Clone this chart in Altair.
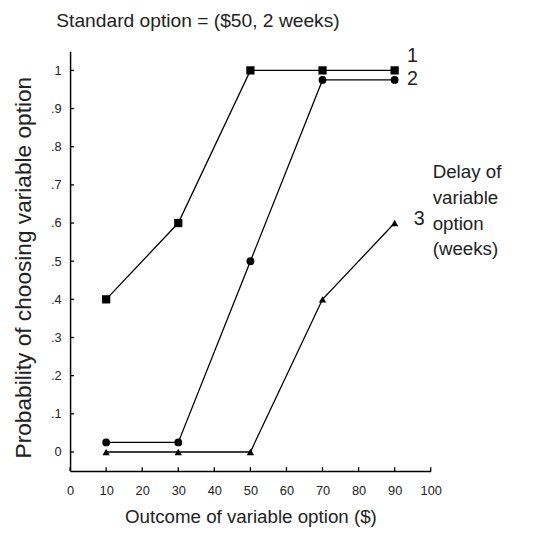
import altair as alt
import pandas as pd

# Data
outcome = [10, 30, 50, 70, 90]
p_delay1 = [0.4, 0.6, 1.0, 1.0, 1.0]
p_delay2 = [0.025, 0.025, 0.5, 0.975, 0.975]
p_delay3 = [0.0, 0.0, 0.0, 0.4, 0.6]
series_names = ["1", "2", "3"]
x_ticks = [0, 10, 20, 30, 40, 50, 60, 70, 80, 90, 100]
y_ticks = [0, 0.1, 0.2, 0.3, 0.4, 0.5, 0.6, 0.7, 0.8, 0.9, 1.0]
legend_lines = ["Delay of", "variable", "option", "(weeks)"]

rows = []
for name, vals in zip(series_names, [p_delay1, p_delay2, p_delay3]):
    for x, y in zip(outcome, vals):
        rows.append({"delay": name, "outcome": x, "prob": y})
df = pd.DataFrame(rows)

FONT = "Liberation Sans"
W, H = 366, 426

xs = alt.Scale(domain=[0, 100], nice=False, zero=False)
ys = alt.Scale(domain=[-0.05, 1.05], nice=False, zero=False)

x_axis = alt.Axis(
    title="Outcome of variable option ($)", values=x_ticks, ticks=False,
    grid=False, labelPadding=14, titlePadding=10, labelFontSize=13,
    labelFlush=False, labelOverlap=False, titleFontSize=19)
y_axis = alt.Axis(
    title="Probability of choosing variable option", values=y_ticks,
    ticks=False, grid=False, labelPadding=9, titlePadding=15,
    labelFontSize=13, labelFlush=False, labelOverlap=False,
    titleFontSize=23, titleY=219,
    labelExpr="datum.value == 0 ? '0' : datum.value == 1 ? '1' : replace(format(datum.value, '.1f'), '0.', '.')")


def X(field):
    return alt.X(field, scale=xs, axis=x_axis)


def Y(field):
    return alt.Y(field, scale=ys, axis=y_axis)


base = alt.Chart(df)

lines = base.mark_line(color="black", strokeWidth=1.3).encode(
    x=X("outcome:Q"), y=Y("prob:Q"), detail="delay:N")

shape_scale = alt.Scale(domain=series_names, range=["square", "circle", "triangle-up"])
size_scale = alt.Scale(domain=series_names, range=[70, 55, 50])
points = base.mark_point(filled=True, color="black", opacity=1).encode(
    x=X("outcome:Q"), y=Y("prob:Q"),
    shape=alt.Shape("delay:N", scale=shape_scale, legend=None),
    size=alt.Size("delay:N", scale=size_scale, legend=None))

xt = alt.Chart(pd.DataFrame({"outcome": x_ticks})).mark_rule(color="black", strokeWidth=1.3).encode(
    x=X("outcome:Q"), y=alt.value(H), y2=alt.value(H - 4))
yt = alt.Chart(pd.DataFrame({"prob": y_ticks})).mark_rule(color="black", strokeWidth=1.3).encode(
    y=Y("prob:Q"), x=alt.value(0), x2=alt.value(4))

last = df[df["outcome"] == 90]
label_layers = []
for name, dx, dy in zip(series_names, [18, 18, 25], [-15, -1, -4]):
    label_layers.append(
        alt.Chart(last[last["delay"] == name]).mark_text(
            font=FONT, fontSize=20, color="#222", align="center", baseline="middle",
            dx=dx, dy=dy).encode(
            x=X("outcome:Q"), y=Y("prob:Q"), text="delay:N"))

legend_text = alt.Chart(pd.DataFrame({"t": [legend_lines]})).mark_text(
    font=FONT, fontSize=19, color="#222", align="left", baseline="middle",
    lineHeight=26).encode(x=alt.value(368), y=alt.value(123), text="t")

chart = alt.layer(lines, points, xt, yt, *label_layers, legend_text).properties(
    width=W, height=H,
    autosize=alt.AutoSizeParams(type="none"),
    padding={"left": 63, "top": 40, "right": 117, "bottom": 66},
    title=alt.TitleParams(
        "Standard option = ($50, 2 weeks)", font=FONT, fontSize=19.5,
        fontWeight="normal", color="#222", anchor="start", frame="group",
        dx=-14, offset=15),
).configure_view(stroke=None).configure_axis(
    labelFont=FONT, titleFont=FONT, titleFontWeight="normal",
    labelColor="#222", titleColor="#222", domainColor="black", domainWidth=1.5,
    labelOverlap=False,
)

chart.save("out.html", embed_options={"renderer": "svg", "actions": False})
